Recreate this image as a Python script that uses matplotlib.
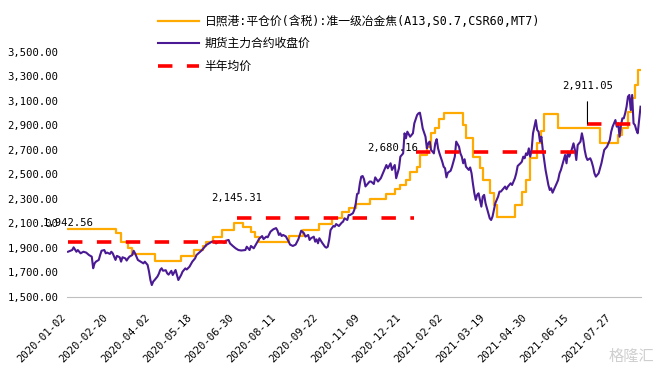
import matplotlib
matplotlib.use('Agg')
import matplotlib.pyplot as plt
from matplotlib.lines import Line2D

plt.rcParams['font.family'] = ['DejaVu Sans Mono', 'Noto Sans CJK SC']

# x axis is trading days counted from 2020-01-02 (0) to 2021-08-24 (410)
n_days = 411
tick_days = list(range(0, 391, 30))
tick_labels = ['2020-01-02', '2020-02-20', '2020-04-02', '2020-05-18', '2020-06-30',
               '2020-08-11', '2020-09-22', '2020-11-09', '2020-12-21', '2021-02-02',
               '2021-03-19', '2021-04-30', '2021-06-15', '2021-07-27']

# futures main contract close
fut_day = [0, 3, 4, 6, 7, 9, 11, 13, 15, 17, 18, 19, 20, 22, 23, 24, 26, 27, 28, 30,
           31, 32, 33, 34, 35, 37, 38, 39, 41, 42, 43, 44, 46, 47, 48, 49, 50, 52, 54, 55,
           56, 57, 58, 59, 60, 61, 62, 64, 65, 66, 67, 68, 70, 71, 72, 74, 75, 77, 79, 81,
           82, 84, 85, 87, 89, 91, 92, 94, 96, 97, 99, 101, 103, 105, 106, 108, 110, 112, 113, 115,
           116, 118, 120, 122, 124, 127, 128, 130, 131, 133, 135, 137, 139, 140, 142, 143, 145, 147, 149, 150,
           151, 152, 153, 154, 156, 158, 159, 161, 163, 165, 166, 167, 169, 170, 172, 173, 174, 176, 177, 178,
           179, 180, 182, 184, 185, 186, 187, 188, 190, 191, 192, 194, 196, 197, 198, 200, 201, 202, 204, 205,
           206, 207, 208, 209, 210, 211, 212, 213, 215, 216, 217, 219, 220, 222, 224, 226, 228, 229, 231, 232,
           234, 235, 237, 238, 240, 241, 242, 243, 245, 246, 247, 248, 250, 251, 252, 253, 254, 256, 257, 258,
           259, 260, 262, 263, 264, 265, 266, 268, 269, 270, 271, 272, 274, 275, 276, 277, 278, 280, 281, 282,
           283, 284, 285, 287, 288, 289, 290, 291, 292, 293, 294, 296, 297, 298, 299, 300, 302, 303, 304, 305,
           306, 308, 309, 310, 312, 313, 314, 315, 317, 318, 320, 321, 322, 324, 325, 326, 327, 328, 329, 330,
           331, 332, 333, 334, 335, 336, 337, 338, 339, 340, 341, 342, 344, 345, 346, 347, 349, 350, 351, 352,
           353, 355, 356, 357, 358, 359, 361, 362, 363, 364, 365, 367, 368, 369, 370, 371, 372, 374, 375, 376,
           377, 378, 380, 381, 382, 383, 384, 386, 387, 388, 389, 390, 392, 393, 394, 395, 396, 397, 398, 399,
           400, 401, 402, 403, 404, 405, 406, 407, 408, 410]
fut_close = [1867, 1881, 1903, 1867, 1881, 1854, 1867, 1860, 1840, 1827, 1732, 1772, 1786, 1800, 1840, 1875, 1881, 1854, 1860, 1849,
             1867, 1854, 1827, 1800, 1833, 1822, 1786, 1822, 1813, 1795, 1813, 1827, 1840, 1875, 1854, 1827, 1800, 1786, 1772, 1786,
             1772, 1759, 1705, 1636, 1595, 1623, 1636, 1664, 1686, 1718, 1732, 1712, 1716, 1691, 1680, 1711, 1677, 1718, 1636, 1677,
             1704, 1731, 1722, 1745, 1786, 1813, 1840, 1860, 1881, 1895, 1922, 1935, 1949, 1949, 1935, 1949, 1949, 1940, 1957, 1963,
             1935, 1914, 1895, 1881, 1877, 1881, 1908, 1881, 1914, 1895, 1935, 1975, 1995, 1970, 1990, 1985, 2031, 2050, 2060, 2040,
             2004, 2017, 1995, 2004, 1992, 1950, 1925, 1914, 1925, 1970, 2004, 2039, 2017, 1990, 2004, 1963, 1977, 1990, 1949, 1968,
             1936, 1977, 1940, 1908, 1900, 1908, 1963, 2044, 2077, 2072, 2093, 2077, 2104, 2113, 2140, 2126, 2167, 2167, 2181, 2208,
             2257, 2338, 2344, 2425, 2480, 2485, 2458, 2400, 2426, 2440, 2440, 2420, 2474, 2440, 2467, 2520, 2575, 2548, 2589, 2535,
             2575, 2467, 2548, 2643, 2670, 2834, 2793, 2847, 2806, 2820, 2834, 2915, 2983, 2997, 3002, 2942, 2874, 2806, 2711, 2752,
             2766, 2698, 2670, 2752, 2786, 2711, 2670, 2602, 2561, 2548, 2474, 2512, 2528, 2561, 2602, 2643, 2766, 2725, 2670, 2643,
             2589, 2622, 2561, 2535, 2555, 2507, 2420, 2344, 2290, 2331, 2344, 2235, 2317, 2331, 2263, 2222, 2140, 2126, 2154, 2208,
             2263, 2317, 2358, 2358, 2385, 2399, 2377, 2399, 2426, 2412, 2466, 2507, 2567, 2589, 2602, 2643, 2630, 2670, 2657, 2711,
             2643, 2698, 2834, 2888, 2942, 2861, 2847, 2766, 2806, 2698, 2616, 2534, 2412, 2371, 2385, 2349, 2399, 2426, 2453, 2507,
             2535, 2616, 2657, 2589, 2684, 2643, 2711, 2752, 2698, 2616, 2738, 2766, 2834, 2779, 2698, 2643, 2616, 2630, 2602, 2561,
             2507, 2480, 2507, 2548, 2589, 2643, 2698, 2725, 2752, 2779, 2847, 2888, 2942, 2888, 2915, 2806, 2901, 2956, 2956, 2997,
             3051, 3133, 3147, 3024, 3147, 2915, 2901, 2861, 2834, 3051]

# Rizhao port spot price: day the level changes and the new level
spot_day = [0, 34, 38, 43, 46, 62, 81, 90, 97, 99, 104, 110, 119, 125, 131, 134, 137, 158, 168, 180,
            189, 196, 201, 206, 216, 228, 234, 238, 242, 245, 250, 252, 257, 260, 263, 266, 269, 283, 285, 290,
            295, 297, 302, 305, 307, 320, 325, 328, 331, 336, 339, 341, 351, 381, 394, 397, 401, 404, 406, 408]
spot_price = [2050, 2017, 1949, 1895, 1849, 1794, 1830, 1880, 1910, 1945, 1990, 2045, 2099, 2065, 2031, 1990, 1949, 1995, 2044, 2093,
              2140, 2194, 2225, 2255, 2297, 2340, 2378, 2415, 2453, 2520, 2560, 2657, 2718, 2834, 2880, 2948, 3002, 2901, 2793, 2643,
              2548, 2453, 2344, 2250, 2153, 2249, 2357, 2453, 2630, 2752, 2850, 2995, 2880, 2752, 2820, 2880, 3010, 3120, 3228, 3350]

# half-year averages
half_start = [0, 121, 249, 372]
half_end = [120, 248, 371, 410]
half_avg = [1942.56, 2145.31, 2680.16, 2911.05]

orange = '#FFAA00'
purple = '#4A1A94'
red = '#FF0000'

fig = plt.figure(figsize=(6.64, 3.73), dpi=100)
ax = fig.add_axes([0.1014, 0.2046, 0.8643, 0.6568])

ax.plot(spot_day + [n_days - 1], spot_price + [spot_price[-1]],
        drawstyle='steps-post', color=orange, lw=1.6)
ax.plot(fut_day, fut_close, color=purple, lw=1.5)
for s, e, v in zip(half_start, half_end, half_avg):
    ax.plot([s, e], [v, v], color=red, lw=2.6, dashes=(4, 4))

ax.set_xlim(-0.5, n_days - 0.5)
ax.set_ylim(1500, 3500)
ax.set_yticks(range(1500, 3501, 200))
ax.set_yticklabels(['{:,.2f}'.format(v) for v in range(1500, 3501, 200)])
ax.set_xticks(tick_days)
ax.set_xticklabels(tick_labels, rotation=45, ha='right', va='top')
ax.tick_params(axis='y', length=0, pad=6.5, labelsize=7.6)
ax.tick_params(axis='x', length=0, pad=11, labelsize=7.6)
for sp in ['top', 'right', 'left']:
    ax.spines[sp].set_visible(False)
ax.spines['bottom'].set_color('#BFBFBF')
ax.spines['bottom'].set_linewidth(0.8)

# data labels on the averages
fs = 7.6
ax.annotate('{:,.2f}'.format(half_avg[0]), (half_start[0], half_avg[0]), xytext=(0, 14),
            textcoords='offset points', ha='center', va='center', fontsize=fs)
ax.annotate('{:,.2f}'.format(half_avg[1]), (half_start[1], half_avg[1]), xytext=(0, 14),
            textcoords='offset points', ha='center', va='center', fontsize=fs)
ax.annotate('{:,.2f}'.format(half_avg[2]), (half_start[2], half_avg[2]), xytext=(1.5, 3),
            textcoords='offset points', ha='right', va='center', fontsize=fs)
ax.annotate('{:,.2f}'.format(half_avg[3]), (half_start[3], half_avg[3]), xytext=(0, 27.5),
            textcoords='offset points', ha='center', va='center', fontsize=fs,
            arrowprops=dict(arrowstyle='-', color='black', lw=0.8, shrinkA=6, shrinkB=0))

handles = [Line2D([], [], color=orange, lw=1.6),
           Line2D([], [], color=purple, lw=1.5),
           Line2D([], [], color=red, lw=2.6, dashes=(4, 4))]
labels = ['日照港:平仓价(含税):准一级冶金焦(A13,S0.7,CSR60,MT7)',
          '期货主力合约收盘价',
          '半年均价']
fig.legend(handles, labels, loc='upper left', bbox_to_anchor=(152 / 664, 1 - 9 / 373),
           frameon=False, borderpad=0, handlelength=3.5, handletextpad=0.45,
           labelspacing=0.8, fontsize=8.5)

fig.text(0.985, 0.045, '格隆汇', ha='right', va='center', fontsize=11,
         color='#CFCFCF', family=['Noto Sans CJK SC'])

fig.savefig('out.png', dpi=100)
